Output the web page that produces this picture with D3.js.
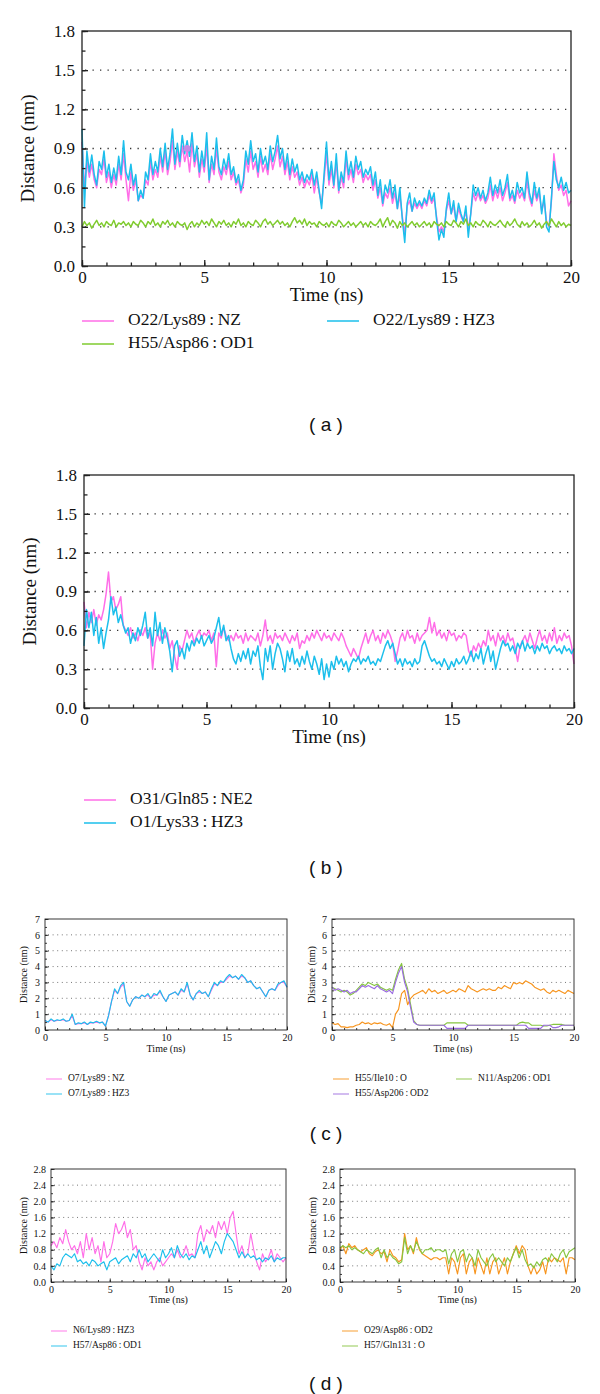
<!DOCTYPE html>
<html><head><meta charset="utf-8">
<script src="https://cdn.jsdelivr.net/npm/d3@7"></script>
<style>body{margin:0;background:#fff}svg{display:block}</style>
</head><body><svg id="c" width="600" height="1394"></svg>
<script>
// ---------- DATA ----------
const timeDomain = [0, 20];
const xTickLabels = [0, 5, 10, 15, 20];

// Panel (a)
const aNames = ["O22/Lys89\u2009:\u2009NZ", "O22/Lys89\u2009:\u2009HZ3", "H55/Asp86\u2009:\u2009OD1"];
const aNZ = [0.95,0.60,0.80,0.68,0.78,0.66,0.60,0.74,0.70,0.82,
0.64,0.72,0.60,0.70,0.62,0.78,0.66,0.86,0.66,0.50,
0.72,0.58,0.66,0.50,0.54,0.52,0.66,0.62,0.80,0.66,
0.74,0.68,0.84,0.72,0.88,0.70,0.80,0.96,0.74,0.88,
0.76,0.92,0.80,0.88,0.72,0.94,0.76,0.86,0.68,0.82,
0.72,0.92,0.64,0.78,0.70,0.90,0.72,0.66,0.76,0.70,
0.80,0.66,0.72,0.62,0.66,0.56,0.62,0.82,0.72,0.88,
0.74,0.80,0.68,0.84,0.72,0.78,0.70,0.86,0.74,0.82,
0.92,0.76,0.84,0.70,0.80,0.66,0.76,0.68,0.72,0.62,
0.68,0.60,0.66,0.62,0.70,0.56,0.68,0.56,0.48,0.66,
0.86,0.62,0.74,0.60,0.80,0.56,0.68,0.60,0.82,0.66,
0.74,0.64,0.78,0.70,0.74,0.64,0.70,0.66,0.70,0.58,
0.66,0.52,0.60,0.46,0.56,0.52,0.60,0.48,0.56,0.44,
0.54,0.38,0.24,0.46,0.50,0.42,0.48,0.44,0.48,0.44,
0.50,0.46,0.54,0.48,0.52,0.38,0.26,0.30,0.26,0.42,
0.50,0.40,0.46,0.34,0.44,0.38,0.34,0.42,0.28,0.40,
0.56,0.50,0.56,0.50,0.54,0.48,0.52,0.62,0.50,0.58,
0.52,0.60,0.50,0.56,0.64,0.50,0.54,0.48,0.58,0.52,
0.56,0.50,0.66,0.52,0.46,0.58,0.50,0.56,0.42,0.50,
0.34,0.30,0.50,0.86,0.70,0.58,0.62,0.54,0.58,0.46,
0.50];
const aHZ3 = [1.05,0.45,0.88,0.72,0.85,0.70,0.62,0.80,0.74,0.88,
0.68,0.78,0.64,0.75,0.66,0.84,0.70,0.96,0.72,0.66,
0.78,0.62,0.70,0.50,0.58,0.52,0.72,0.66,0.86,0.70,
0.80,0.72,0.90,0.76,0.94,0.74,0.86,1.05,0.78,0.94,
0.80,1.00,0.86,0.96,0.84,1.02,0.80,0.92,0.72,0.88,
0.76,1.02,0.66,0.84,0.74,0.98,0.76,0.70,0.82,0.74,
0.86,0.70,0.76,0.64,0.70,0.58,0.66,0.88,0.78,0.96,
0.80,0.86,0.72,0.90,0.78,0.84,0.74,0.92,0.80,0.88,
1.00,0.82,0.90,0.74,0.86,0.70,0.82,0.72,0.78,0.66,
0.72,0.64,0.70,0.66,0.74,0.62,0.72,0.58,0.44,0.70,
0.95,0.66,0.80,0.62,0.86,0.58,0.72,0.64,0.88,0.70,
0.80,0.68,0.84,0.74,0.80,0.68,0.74,0.70,0.76,0.62,
0.72,0.54,0.66,0.48,0.62,0.56,0.66,0.52,0.62,0.44,
0.60,0.36,0.18,0.48,0.56,0.42,0.52,0.46,0.50,0.46,
0.52,0.48,0.58,0.50,0.56,0.36,0.20,0.28,0.22,0.44,
0.56,0.40,0.50,0.34,0.48,0.40,0.34,0.46,0.22,0.40,
0.62,0.54,0.60,0.52,0.58,0.50,0.56,0.68,0.54,0.62,
0.56,0.66,0.54,0.60,0.70,0.52,0.58,0.50,0.64,0.56,
0.60,0.52,0.72,0.56,0.48,0.64,0.52,0.60,0.40,0.54,
0.30,0.26,0.52,0.80,0.66,0.60,0.68,0.58,0.64,0.56,
0.58];
const aOD1 = [0.30,0.34,0.31,0.33,0.29,0.32,0.35,0.31,0.33,0.30,
0.34,0.32,0.31,0.35,0.30,0.33,0.32,0.34,0.31,0.33,
0.30,0.34,0.32,0.31,0.35,0.33,0.30,0.34,0.32,0.36,
0.31,0.33,0.30,0.34,0.32,0.35,0.31,0.33,0.30,0.34,
0.32,0.31,0.33,0.28,0.32,0.34,0.30,0.33,0.31,0.35,
0.32,0.34,0.31,0.36,0.33,0.30,0.34,0.32,0.35,0.31,
0.33,0.30,0.34,0.32,0.36,0.31,0.33,0.30,0.34,0.32,
0.31,0.35,0.33,0.30,0.34,0.36,0.32,0.34,0.31,0.33,
0.35,0.32,0.34,0.31,0.33,0.30,0.34,0.37,0.33,0.35,
0.32,0.36,0.31,0.34,0.32,0.33,0.30,0.34,0.32,0.31,
0.33,0.30,0.34,0.32,0.31,0.35,0.33,0.30,0.32,0.34,
0.31,0.33,0.30,0.32,0.34,0.31,0.33,0.30,0.34,0.32,
0.31,0.33,0.36,0.30,0.34,0.37,0.31,0.35,0.33,0.29,
0.34,0.31,0.33,0.30,0.32,0.34,0.31,0.33,0.30,0.32,
0.34,0.31,0.33,0.30,0.34,0.32,0.31,0.33,0.30,0.34,
0.32,0.31,0.35,0.33,0.30,0.34,0.32,0.36,0.31,0.33,
0.30,0.34,0.32,0.31,0.35,0.33,0.30,0.34,0.32,0.31,
0.33,0.35,0.32,0.30,0.34,0.31,0.33,0.36,0.32,0.30,
0.34,0.31,0.33,0.30,0.32,0.35,0.31,0.33,0.29,0.32,
0.34,0.31,0.36,0.33,0.30,0.34,0.31,0.33,0.30,0.32,
0.31];
const aMarkerT = [4.3];
const aMarkerV = [0.9];

// Panel (b)
const bNames = ["O31/Gln85\u2009:\u2009NE2", "O1/Lys33\u2009:\u2009HZ3"];
const bNE2 = [0.82,0.62,0.74,0.66,0.76,0.64,0.72,0.68,0.76,0.88,
1.05,0.82,0.86,0.76,0.80,0.86,0.64,0.60,0.56,0.62,
0.54,0.58,0.52,0.60,0.56,0.62,0.54,0.58,0.30,0.50,
0.58,0.52,0.60,0.54,0.58,0.46,0.52,0.40,0.30,0.48,
0.44,0.52,0.60,0.54,0.58,0.50,0.56,0.60,0.54,0.58,
0.56,0.60,0.52,0.58,0.32,0.58,0.54,0.62,0.56,0.52,
0.56,0.52,0.58,0.54,0.56,0.50,0.58,0.52,0.56,0.54,
0.52,0.58,0.48,0.56,0.68,0.52,0.56,0.50,0.58,0.54,
0.56,0.52,0.58,0.54,0.50,0.56,0.52,0.58,0.46,0.52,
0.50,0.56,0.52,0.58,0.54,0.60,0.56,0.52,0.58,0.54,
0.56,0.52,0.58,0.55,0.52,0.58,0.54,0.48,0.44,0.40,
0.46,0.42,0.38,0.46,0.52,0.58,0.50,0.56,0.60,0.52,
0.56,0.50,0.58,0.54,0.60,0.56,0.50,0.36,0.44,0.54,
0.58,0.52,0.60,0.54,0.56,0.50,0.58,0.52,0.56,0.58,
0.60,0.70,0.58,0.66,0.56,0.60,0.54,0.58,0.52,0.60,
0.56,0.58,0.52,0.56,0.54,0.58,0.56,0.44,0.40,0.48,
0.44,0.50,0.46,0.52,0.48,0.60,0.52,0.56,0.48,0.58,
0.52,0.56,0.50,0.58,0.52,0.54,0.46,0.36,0.48,0.52,
0.56,0.50,0.58,0.52,0.46,0.54,0.60,0.52,0.56,0.50,
0.58,0.52,0.62,0.50,0.56,0.52,0.58,0.54,0.56,0.48,
0.34];
const bHZ3 = [0.48,0.76,0.62,0.74,0.56,0.70,0.50,0.62,0.46,0.58,
0.68,0.86,0.72,0.78,0.66,0.72,0.64,0.58,0.62,0.50,
0.58,0.52,0.62,0.56,0.64,0.74,0.54,0.62,0.48,0.74,
0.56,0.66,0.50,0.62,0.54,0.44,0.28,0.48,0.52,0.40,
0.46,0.38,0.50,0.44,0.52,0.48,0.54,0.50,0.56,0.48,
0.52,0.56,0.50,0.54,0.62,0.70,0.56,0.64,0.52,0.56,
0.46,0.38,0.34,0.42,0.36,0.44,0.38,0.46,0.34,0.44,
0.40,0.48,0.32,0.22,0.46,0.36,0.48,0.30,0.42,0.50,
0.46,0.38,0.28,0.44,0.36,0.46,0.34,0.38,0.32,0.40,
0.34,0.44,0.36,0.30,0.40,0.34,0.26,0.38,0.22,0.34,
0.24,0.36,0.30,0.40,0.34,0.38,0.32,0.36,0.28,0.34,
0.38,0.36,0.40,0.34,0.38,0.36,0.40,0.34,0.36,0.33,
0.38,0.36,0.42,0.48,0.52,0.46,0.50,0.42,0.34,0.38,
0.32,0.38,0.34,0.36,0.32,0.38,0.34,0.36,0.48,0.52,
0.46,0.40,0.36,0.38,0.34,0.36,0.32,0.38,0.34,0.30,
0.36,0.32,0.38,0.34,0.36,0.40,0.34,0.38,0.44,0.36,
0.42,0.38,0.46,0.34,0.42,0.48,0.36,0.44,0.30,0.38,
0.46,0.52,0.48,0.50,0.44,0.48,0.42,0.50,0.46,0.52,
0.44,0.50,0.46,0.48,0.42,0.48,0.44,0.50,0.46,0.48,
0.42,0.46,0.48,0.44,0.46,0.42,0.48,0.44,0.46,0.42,
0.46];

// Panel (c) left
const cLNames = ["O7/Lys89\u2009:\u2009NZ", "O7/Lys89\u2009:\u2009HZ3"];
const cLNZ = [0.6,0.5,0.65,0.55,0.6,0.6,0.65,0.55,0.6,0.9,0.35,0.4,0.4,0.45,0.35,0.45,0.45,0.5,0.45,0.5,0.25,0.9,1.8,2.5,2.3,2.7,2.9,1.8,1.5,1.9,2.1,2.0,2.2,2.1,2.2,2.0,2.2,2.2,2.4,2.1,1.8,2.2,2.3,2.4,2.2,2.5,2.4,2.9,2.2,1.9,2.3,2.4,2.3,2.4,2.1,2.5,2.9,2.8,3.0,3.0,3.2,3.4,3.3,3.4,3.2,3.4,3.3,3.0,3.1,2.8,2.6,2.7,2.4,2.1,2.5,2.6,2.5,2.8,3.0,3.0,2.7];
const cLHZ3 = [0.6,0.5,0.7,0.55,0.65,0.6,0.7,0.55,0.6,1.0,0.35,0.45,0.4,0.5,0.35,0.5,0.45,0.55,0.45,0.5,0.25,0.9,1.8,2.6,2.3,2.8,3.0,1.8,1.5,1.9,2.1,2.0,2.2,2.1,2.3,2.0,2.3,2.2,2.5,2.1,1.8,2.2,2.3,2.4,2.2,2.6,2.4,3.0,2.2,1.9,2.3,2.5,2.3,2.4,2.1,2.6,3.0,2.8,3.1,3.0,3.3,3.5,3.3,3.4,3.2,3.5,3.3,3.0,3.1,2.8,2.6,2.7,2.4,2.1,2.5,2.6,2.5,2.9,3.0,3.1,2.7];

// Panel (c) right
const cRNames = ["H55/Ile10\u2009:\u2009O", "N11/Asp206\u2009:\u2009OD1", "H55/Asp206\u2009:\u2009OD2"];
const cRIle10 = [0.45,0.35,0.4,0.2,0.2,0.15,0.2,0.2,0.3,0.35,0.5,0.4,0.45,0.35,0.45,0.4,0.45,0.35,0.3,0.4,0.15,1.0,1.3,2.3,2.5,1.6,2.0,2.2,2.3,2.4,2.5,2.3,2.6,2.4,2.5,2.3,2.4,2.5,2.3,2.4,2.5,2.4,2.6,2.5,2.4,2.8,2.6,2.5,2.4,2.5,2.6,2.5,2.6,2.5,2.5,2.7,2.6,2.8,2.7,2.6,3.0,2.9,3.0,2.9,3.1,3.0,2.9,2.7,2.6,2.5,2.6,2.4,2.3,2.5,2.4,2.5,2.4,2.3,2.5,2.4,2.3];
const cROD1 = [2.7,2.6,2.5,2.4,2.5,2.4,2.2,2.3,2.5,2.7,2.9,2.8,3.0,2.9,2.8,2.9,2.7,2.6,2.5,2.6,2.5,3.2,3.8,4.2,3.2,2.6,1.6,0.6,0.35,0.3,0.3,0.3,0.3,0.3,0.3,0.3,0.3,0.3,0.45,0.45,0.45,0.45,0.45,0.45,0.45,0.3,0.3,0.3,0.3,0.3,0.3,0.3,0.3,0.3,0.3,0.3,0.3,0.3,0.3,0.3,0.3,0.3,0.45,0.5,0.45,0.45,0.3,0.3,0.3,0.3,0.25,0.25,0.3,0.35,0.35,0.35,0.35,0.3,0.3,0.3,0.3];
const cROD2 = [2.7,2.5,2.6,2.5,2.4,2.5,2.3,2.4,2.4,2.6,2.8,2.7,2.8,2.7,2.6,2.8,2.6,2.5,2.4,2.5,2.3,3.0,3.6,4.0,3.0,2.4,1.4,0.5,0.35,0.3,0.3,0.3,0.3,0.3,0.3,0.3,0.3,0.3,0.1,0.1,0.1,0.1,0.1,0.1,0.1,0.3,0.3,0.3,0.3,0.3,0.3,0.3,0.3,0.3,0.3,0.3,0.3,0.3,0.3,0.3,0.3,0.3,0.3,0.3,0.3,0.1,0.1,0.1,0.1,0.1,0.3,0.3,0.3,0.15,0.15,0.2,0.3,0.3,0.3,0.3,0.3];

// Panel (d) left
const dLNames = ["N6/Lys89\u2009:\u2009HZ3", "H57/Asp86\u2009:\u2009OD1"];
const dLHZ3 = [0.9,1.0,0.85,1.1,0.95,1.3,1.0,0.8,0.9,0.7,1.0,0.6,1.2,0.8,1.1,0.7,0.9,0.5,1.0,0.6,0.7,1.0,1.45,1.2,1.3,1.5,1.1,1.3,0.8,0.9,0.5,0.3,0.6,0.4,0.5,0.3,0.5,0.6,0.4,0.5,0.6,0.7,0.6,0.8,0.6,0.7,0.9,0.65,0.7,0.6,1.2,1.4,1.0,1.3,1.2,1.4,1.1,1.5,1.3,1.5,1.2,1.6,1.75,1.2,0.7,0.9,0.6,0.7,1.2,0.8,0.5,0.3,0.7,0.5,0.6,0.8,0.5,0.7,0.6,0.5,0.6];
const dLOD1 = [0.4,0.3,0.45,0.4,0.6,0.7,0.65,0.6,0.7,0.5,0.55,0.45,0.5,0.4,0.55,0.5,0.4,0.45,0.5,0.3,0.5,0.55,0.6,0.45,0.55,0.6,0.65,0.5,0.7,0.6,0.8,0.6,0.7,0.5,0.6,0.7,0.6,0.5,0.8,0.6,0.7,0.85,0.6,0.9,0.7,0.6,0.7,0.55,0.65,0.6,0.8,1.0,0.7,0.9,0.6,0.8,1.0,0.9,0.7,1.0,1.2,1.1,1.0,0.8,0.6,0.75,0.6,0.7,0.6,0.65,0.55,0.6,0.5,0.6,0.55,0.65,0.5,0.6,0.55,0.6,0.6];

// Panel (d) right
const dRNames = ["O29/Asp86\u2009:\u2009OD2", "H57/Gln131\u2009:\u2009O"];
const dROD2 = [0.8,0.9,0.7,0.95,0.85,0.9,0.8,0.75,0.8,0.85,0.7,0.65,0.75,0.8,0.7,0.75,0.5,0.8,0.65,0.6,0.5,0.55,1.2,0.8,0.9,0.7,1.1,0.8,0.7,0.65,0.6,0.55,0.6,0.6,0.55,0.6,0.6,0.2,0.6,0.5,0.2,0.6,0.7,0.2,0.5,0.6,0.2,0.6,0.4,0.2,0.6,0.2,0.5,0.6,0.2,0.4,0.6,0.2,0.5,0.7,0.9,0.7,0.9,0.8,0.4,0.2,0.4,0.2,0.3,0.5,0.2,0.6,0.5,0.6,0.55,0.5,0.6,0.2,0.6,0.6,0.55];
const dRO = [0.85,0.9,0.85,0.9,0.8,0.85,0.8,0.75,0.7,0.8,0.75,0.7,0.8,0.85,0.6,0.8,0.6,0.7,0.6,0.55,0.45,0.5,1.1,0.7,0.9,0.75,1.0,0.85,0.7,0.8,0.8,0.85,0.75,0.8,0.8,0.75,0.8,0.45,0.7,0.8,0.5,0.75,0.8,0.5,0.7,0.6,0.4,0.8,0.6,0.5,0.4,0.6,0.7,0.5,0.6,0.5,0.4,0.6,0.5,0.7,0.85,0.6,0.8,0.55,0.4,0.45,0.35,0.5,0.4,0.55,0.6,0.5,0.7,0.6,0.5,0.7,0.8,0.6,0.75,0.8,0.85];

const panelLabels = ["( a )", "( b )", "( c )", "( d )"];

// ---------- DRAWING ----------
const PINK = "#ff6ee8", CYAN = "#1cbfec", GREEN = "#80cc30", ORANGE = "#f7941d", PURPLE = "#9a6ae0", GREEN2 = "#86c540";
const SERIF = "'Liberation Serif', 'Times New Roman', 'DejaVu Serif', serif";
const SANS = "'Liberation Sans', Arial, sans-serif";
const svg = d3.select("#c");

function drawPanel(p) {
  const g = svg.append("g");
  const x = d3.scaleLinear().domain(timeDomain).range([p.x0, p.x1]);
  const y = d3.scaleLinear().domain([0, p.yMax]).range([p.yB, p.yT]);
  g.selectAll("line.grid").data(p.grid).join("line")
    .attr("x1", p.x0 + 3).attr("x2", p.x1 - 3)
    .attr("y1", d => y(d)).attr("y2", d => y(d))
    .attr("stroke", p.gridColor).attr("stroke-width", p.gridW)
    .attr("stroke-dasharray", p.dash);
  p.series.forEach(s => {
    const n = s.vals.length;
    const line = d3.line().x((d, i) => x(timeDomain[0] + i * (timeDomain[1] - timeDomain[0]) / (n - 1))).y(d => y(d));
    g.append("path").attr("d", line(s.vals)).attr("fill", "none")
      .attr("stroke", s.color).attr("stroke-width", p.lw).attr("stroke-linejoin", "round");
  });
  if (p.markers) {
    g.selectAll("circle.m").data(p.markers.t).join("circle")
      .attr("cx", d => x(d)).attr("cy", (d, i) => y(p.markers.v[i]))
      .attr("r", p.markers.r).attr("fill", p.markers.color);
  }
  const xMinor = d3.range(timeDomain[0], timeDomain[1] + 0.001, 1);
  const yMinor = d3.range(0, p.yMax + 1e-6, p.yMinorStep);
  const gxm = g.append("g").attr("transform", `translate(0,${p.yB})`)
    .call(d3.axisBottom(x).tickValues(xMinor).tickSize(-p.tMin).tickFormat(""));
  const gym = g.append("g").attr("transform", `translate(${p.x0},0)`)
    .call(d3.axisLeft(y).tickValues(yMinor).tickSize(-p.tMin).tickFormat(""));
  const gx = g.append("g").attr("transform", `translate(0,${p.yB})`)
    .call(d3.axisBottom(x).tickValues(xTickLabels).tickSize(-p.tMaj).tickPadding(p.padX).tickFormat(d3.format("d")));
  const gy = g.append("g").attr("transform", `translate(${p.x0},0)`)
    .call(d3.axisLeft(y).tickValues(p.yTicks).tickSize(-p.tMaj).tickPadding(p.padY).tickFormat(d3.format(p.yFmt)));
  [gxm, gym, gx, gy].forEach(a => {
    a.attr("font-family", null).attr("font-size", null);
    a.select(".domain").remove();
    a.selectAll("line").attr("stroke", "#222").attr("stroke-width", p.frameW);
    a.selectAll("text").style("font-family", SERIF).style("font-size", p.fsTick + "px").attr("fill", "#111");
  });
  g.append("rect").attr("x", p.x0).attr("y", p.yT).attr("width", p.x1 - p.x0).attr("height", p.yB - p.yT)
    .attr("fill", "none").attr("stroke", "#222").attr("stroke-width", p.frameW);
  g.append("text").attr("x", (p.x0 + p.x1) / 2).attr("y", p.timeY).attr("text-anchor", "middle")
    .attr("dominant-baseline", "middle").style("font-family", SERIF).style("font-size", p.fsTitle + "px").attr("fill", "#111").text("Time (ns)");
  g.append("text").attr("transform", `translate(${p.distX},${(p.yT + p.yB) / 2}) rotate(-90)`)
    .attr("text-anchor", "middle").attr("dominant-baseline", "middle")
    .style("font-family", SERIF).style("font-size", p.fsTitle + "px").attr("fill", "#111").text("Distance (nm)");
  p.series.forEach(s => {
    const lx = p.legCols[s.col], ly = p.legRows[s.row];
    g.append("line").attr("x1", lx).attr("x2", lx + p.legSample).attr("y1", ly).attr("y2", ly)
      .attr("stroke", s.color).attr("stroke-width", p.legLW).attr("opacity", 0.75);
    g.append("text").attr("x", lx + p.legText).attr("y", ly).attr("dominant-baseline", "middle")
      .style("font-family", SERIF).style("font-size", p.fsLeg + "px").attr("fill", "#111").text(s.name);
  });
}

const big = { yMax: 1.8, yTicks: [0, 0.3, 0.6, 0.9, 1.2, 1.5, 1.8], grid: [0.3, 0.6, 0.9, 1.2, 1.5], yMinorStep: 0.15, yFmt: ".1f",
  gridColor: "#333", gridW: 1.3, dash: "1.3,6.2", lw: 1.5, tMaj: 6, tMin: 3.5, frameW: 1.3, padX: 5, padY: 7,
  fsTick: 17, fsTitle: 19, fsLeg: 17.5, legSample: 32, legText: 46, legLW: 2 };
const smallC = { yMax: 7, yTicks: [0, 1, 2, 3, 4, 5, 6, 7], grid: [1, 2, 3, 4, 5, 6], yMinorStep: 0.5, yFmt: "d",
  gridColor: "#777", gridW: 1, dash: "1,3.6", lw: 1.15, tMaj: 3.5, tMin: 2, frameW: 0.9, padX: 4, padY: 5,
  fsTick: 10, fsTitle: 10, fsLeg: 9.5, legSample: 16, legText: 22, legLW: 1.2 };
const smallD = Object.assign({}, smallC, { yMax: 2.8, yTicks: [0, 0.4, 0.8, 1.2, 1.6, 2.0, 2.4, 2.8], grid: [0.4, 0.8, 1.2, 1.6, 2.0, 2.4], yMinorStep: 0.2, yFmt: ".1f" });

drawPanel(Object.assign({}, big, { x0: 82, x1: 571, yT: 31, yB: 266, timeY: 297, distX: 30,
  legCols: [82, 327], legRows: [321, 344],
  markers: { t: aMarkerT, v: aMarkerV, r: 3.5, color: "#c68be6" },
  series: [
    { vals: aNZ, color: PINK, name: aNames[0], col: 0, row: 0 },
    { vals: aHZ3, color: CYAN, name: aNames[1], col: 1, row: 0 },
    { vals: aOD1, color: GREEN, name: aNames[2], col: 0, row: 1 }] }));

drawPanel(Object.assign({}, big, { x0: 84, x1: 574, yT: 475, yB: 708, timeY: 739, distX: 32,
  legCols: [84], legRows: [800, 823],
  series: [
    { vals: bNE2, color: PINK, name: bNames[0], col: 0, row: 0 },
    { vals: bHZ3, color: CYAN, name: bNames[1], col: 0, row: 1 }] }));

drawPanel(Object.assign({}, smallC, { x0: 45, x1: 287, yT: 919, yB: 1030, timeY: 1050, distX: 25,
  legCols: [46], legRows: [1079, 1094],
  series: [
    { vals: cLNZ, color: PINK, name: cLNames[0], col: 0, row: 0 },
    { vals: cLHZ3, color: CYAN, name: cLNames[1], col: 0, row: 1 }] }));

drawPanel(Object.assign({}, smallC, { x0: 332, x1: 574, yT: 919, yB: 1030, timeY: 1050, distX: 313,
  legCols: [333, 456], legRows: [1079, 1094],
  series: [
    { vals: cRIle10, color: ORANGE, name: cRNames[0], col: 0, row: 0 },
    { vals: cROD1, color: GREEN2, name: cRNames[1], col: 1, row: 0 },
    { vals: cROD2, color: PURPLE, name: cRNames[2], col: 0, row: 1 }] }));

drawPanel(Object.assign({}, smallD, { x0: 51, x1: 286, yT: 1169, yB: 1282, timeY: 1301, distX: 25,
  legCols: [51], legRows: [1331, 1346],
  series: [
    { vals: dLHZ3, color: PINK, name: dLNames[0], col: 0, row: 0 },
    { vals: dLOD1, color: CYAN, name: dLNames[1], col: 0, row: 1 }] }));

drawPanel(Object.assign({}, smallD, { x0: 340, x1: 575, yT: 1169, yB: 1282, timeY: 1301, distX: 314,
  legCols: [342], legRows: [1331, 1346],
  series: [
    { vals: dROD2, color: ORANGE, name: dRNames[0], col: 0, row: 0 },
    { vals: dRO, color: GREEN2, name: dRNames[1], col: 0, row: 1 }] }));

const letterY = [426, 869, 1135, 1385];
svg.selectAll("text.plabel").data(panelLabels).join("text")
  .attr("x", 326).attr("y", (d, i) => letterY[i]).attr("text-anchor", "middle").attr("dominant-baseline", "middle")
  .style("font-family", SANS).style("font-size", "19px").attr("fill", "#111").style("white-space", "pre").text(d => d);
</script></body></html>
